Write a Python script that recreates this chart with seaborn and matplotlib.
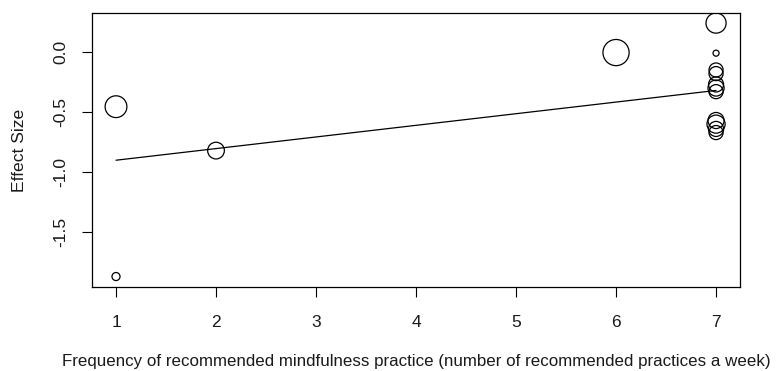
import matplotlib
matplotlib.use("Agg")
import matplotlib.pyplot as plt
import pandas as pd
import seaborn as sns

# Study-level effect sizes against weekly practice frequency
frequency = [1, 1, 2, 6, 7, 7, 7, 7, 7, 7, 7, 7, 7, 7, 7]
effect_size = [-0.455, -1.867, -0.82, -0.005, 0.24, -0.01, -0.15, -0.18,
               -0.27, -0.30, -0.33, -0.57, -0.60, -0.64, -0.67]
# Relative study weights (bubble area)
weight = [117, 16, 69, 169, 100, 9, 49, 49, 56, 64, 49, 64, 81, 56, 49]

# Fitted meta-regression line
fit_x = [1, 7]
fit_y = [-0.90, -0.32]

x_ticks = [1, 2, 3, 4, 5, 6, 7]
y_ticks = [-1.5, -1.0, -0.5, 0.0]
y_tick_labels = ["-1.5", "-1.0", "-0.5", "0.0"]

df = pd.DataFrame({"freq": frequency, "es": effect_size, "w": weight})
fit = pd.DataFrame({"freq": fit_x, "es": fit_y})

sns.set_theme(style="white")
plt.rcParams["font.family"] = ["Liberation Sans", "DejaVu Sans"]

fig = plt.figure(figsize=(7.79, 3.71), dpi=100)
ax = fig.add_axes([0.1181, 0.2264, 0.8319, 0.7386])

sns.lineplot(data=fit, x="freq", y="es", color="black", linewidth=0.9, ax=ax)
sns.scatterplot(data=df, x="freq", y="es", size="w",
                sizes=(min(weight) * 2.1, max(weight) * 2.1),
                facecolor="none", edgecolor="black", linewidth=0.9,
                legend=False, ax=ax)

ax.set_xlim(0.76, 7.24)
ax.set_ylim(-1.954, 0.324)
ax.set_xticks(x_ticks)
ax.set_xticklabels([str(t) for t in x_ticks])
ax.set_yticks(y_ticks)
ax.set_yticklabels(y_tick_labels, rotation=90, va="center")

ax.tick_params(axis="both", direction="out", length=7.2, width=0.8,
               color="black", labelsize=12.5, labelcolor="#1a1a1a",
               bottom=True, left=True)
ax.tick_params(axis="x", pad=13)
ax.tick_params(axis="y", pad=10)

for s in ax.spines.values():
    s.set_visible(True)
    s.set_color("black")
    s.set_linewidth(0.9)

ax.set_xlabel("Frequency of recommended mindfulness practice (number of recommended practices a week)",
              fontsize=12.2, color="#1a1a1a", labelpad=17)
ax.set_ylabel("Effect Size", fontsize=12.6, color="#1a1a1a", labelpad=19)

fig.savefig("out.png", dpi=100)
